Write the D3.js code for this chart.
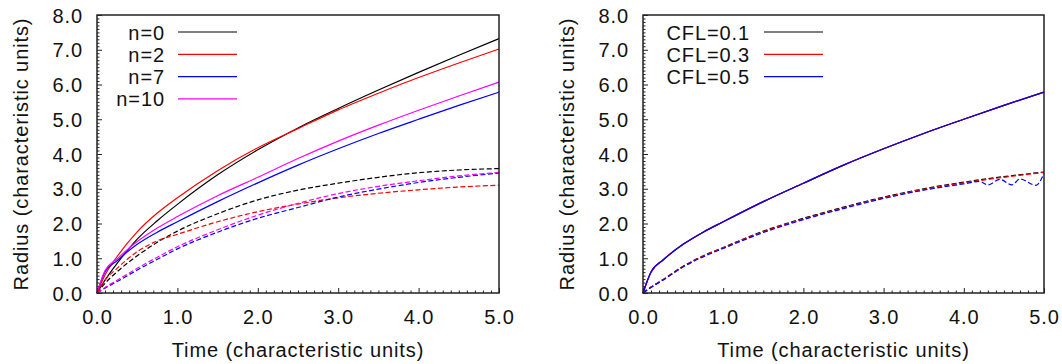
<!DOCTYPE html>
<html>
<head>
<meta charset="utf-8">
<script src="https://cdn.jsdelivr.net/npm/d3@7"></script>
<style>
  body { margin: 0; background: #fff; }
  svg text { font-family: "Liberation Sans", Arial, sans-serif; font-size: 20px; letter-spacing: 0.9px; fill: #111; }
</style>
</head>
<body>
<div id="chart"></div>
<script>
// Time samples (characteristic units)
const time = [0, 0.1, 0.25, 0.5, 0.75, 1, 1.5, 2, 2.5, 3, 3.5, 4, 4.5, 5];

// Left panel: radius for different n (solid / dashed)
const n0Solid   = [0, 0.37, 0.85, 1.55, 2.08, 2.55, 3.40, 4.12, 4.75, 5.31, 5.84, 6.35, 6.84, 7.32];
const n2Solid   = [0, 0.52, 1.05, 1.76, 2.30, 2.74, 3.52, 4.18, 4.73, 5.27, 5.75, 6.20, 6.62, 7.02];
const n7Solid   = [0, 0.61, 0.93, 1.40, 1.75, 2.05, 2.63, 3.17, 3.68, 4.15, 4.59, 5.00, 5.40, 5.78];
const n10Solid  = [0, 0.65, 0.98, 1.48, 1.87, 2.20, 2.80, 3.33, 3.87, 4.37, 4.83, 5.26, 5.67, 6.07];
const n0Dashed  = [0, 0.28, 0.61, 1.07, 1.46, 1.78, 2.28, 2.68, 2.96, 3.16, 3.33, 3.46, 3.54, 3.58];
const n2Dashed  = [0, 0.37, 0.71, 1.19, 1.50, 1.69, 2.05, 2.34, 2.56, 2.74, 2.87, 2.97, 3.05, 3.10];
const n7Dashed  = [0, 0.14, 0.33, 0.66, 0.97, 1.27, 1.75, 2.15, 2.46, 2.76, 2.99, 3.18, 3.33, 3.45];
const n10Dashed = [0, 0.16, 0.37, 0.71, 1.03, 1.33, 1.82, 2.24, 2.58, 2.86, 3.07, 3.23, 3.37, 3.47];

// Right panel: radius for different CFL numbers
const cfl01Solid  = [0, 0.60, 0.95, 1.40, 1.75, 2.05, 2.63, 3.16, 3.68, 4.15, 4.59, 5.00, 5.40, 5.78];
const cfl03Solid  = [0, 0.60, 0.95, 1.40, 1.75, 2.05, 2.63, 3.16, 3.68, 4.15, 4.59, 5.00, 5.40, 5.78];
const cfl05Solid  = [0, 0.61, 0.95, 1.40, 1.75, 2.05, 2.63, 3.16, 3.68, 4.15, 4.59, 5.00, 5.40, 5.78];
const cfl01Dashed = [0, 0.17, 0.39, 0.77, 1.07, 1.31, 1.78, 2.15, 2.47, 2.76, 3.00, 3.19, 3.35, 3.48];
const cfl03Dashed = [0, 0.17, 0.38, 0.76, 1.06, 1.30, 1.76, 2.13, 2.45, 2.74, 2.98, 3.17, 3.33, 3.47];
// CFL=0.5 dashed wobbles near the end, so it has its own time samples
const timeCfl05   = [0, 0.1, 0.25, 0.5, 0.75, 1, 1.5, 2, 2.5, 3, 3.5, 4, 4.2, 4.3, 4.45, 4.6, 4.7, 4.9, 5];
const cfl05Dashed = [0, 0.16, 0.37, 0.75, 1.04, 1.28, 1.74, 2.11, 2.43, 2.72, 2.96, 3.14, 3.21, 3.11, 3.27, 3.11, 3.28, 3.10, 3.44];

const xTicks = [0, 1, 2, 3, 4, 5];
const yTicks = [0, 1, 2, 3, 4, 5, 6, 7, 8];
const xLabel = "Time (characteristic units)";
const yLabel = "Radius (characteristic units)";

const svg = d3.select("#chart")
  .append("svg")
  .attr("width", 1062)
  .attr("height", 364);

function drawPanel(p) {
  const x = d3.scaleLinear().domain([0, 5]).range([p.left, p.right]);
  const y = d3.scaleLinear().domain([0, 8]).range([p.bottom, p.top]);
  const g = svg.append("g");

  // minor ticks every 0.1
  const xMinor = d3.range(0, 51).map(i => i / 10).filter(v => Math.abs(v - Math.round(v)) > 1e-6);
  const yMinor = d3.range(0, 81).map(i => i / 10).filter(v => Math.abs(v - Math.round(v)) > 1e-6);

  g.append("g")
    .attr("transform", "translate(0," + p.bottom + ")")
    .call(d3.axisBottom(x).tickValues(xMinor).tickSize(-2.5).tickFormat(""))
    .call(a => a.select(".domain").remove());
  g.append("g")
    .attr("transform", "translate(" + p.left + ",0)")
    .call(d3.axisLeft(y).tickValues(yMinor).tickSize(-2.5).tickFormat(""))
    .call(a => a.select(".domain").remove());

  g.append("g")
    .attr("transform", "translate(0," + p.bottom + ")")
    .call(d3.axisBottom(x).tickValues(xTicks).tickSize(-5).tickPadding(17).tickFormat(d3.format(".1f")))
    .call(a => a.select(".domain").remove());
  const yAxis = g.append("g")
    .attr("transform", "translate(" + p.left + ",0)")
    .call(d3.axisLeft(y).tickValues(yTicks).tickSize(-5).tickPadding(14).tickFormat(d3.format(".1f")))
    .call(a => a.select(".domain").remove());
  g.selectAll(".tick line").attr("stroke", "#222").attr("stroke-width", 1);
  g.selectAll(".tick text").attr("font-size", null).attr("font-family", null).attr("fill", "#111");
  yAxis.selectAll(".tick text").attr("dy", "0.36em");

  // curves
  p.series.forEach(s => {
    const line = d3.line()
      .x((d, i) => x(s.t[i]))
      .y(d => y(d))
      .curve(d3.curveMonotoneX);
    g.append("path")
      .datum(s.values)
      .attr("fill", "none")
      .attr("stroke", s.color)
      .attr("stroke-width", 1.2)
      .attr("stroke-dasharray", s.dashed ? "5,2.5" : null)
      .attr("d", line);
  });

  // frame
  g.append("rect")
    .attr("x", p.left)
    .attr("y", p.top)
    .attr("width", p.right - p.left)
    .attr("height", p.bottom - p.top)
    .attr("fill", "none")
    .attr("stroke", "#222")
    .attr("stroke-width", 1.5);

  // legend
  p.legend.forEach((d, i) => {
    const ly = p.top + 17 + i * 22.3;
    g.append("text")
      .attr("x", p.legendText)
      .attr("y", ly + 7.5)
      .attr("text-anchor", "end")
      .text(d.label);
    g.append("line")
      .attr("x1", p.legendLine)
      .attr("x2", p.legendLine + 59)
      .attr("y1", ly)
      .attr("y2", ly)
      .attr("stroke", d.color)
      .attr("stroke-width", 1.2);
  });

  // axis titles
  g.append("text")
    .attr("x", (p.left + p.right) / 2)
    .attr("y", 357)
    .attr("text-anchor", "middle")
    .text(xLabel);
  g.append("text")
    .attr("transform", "translate(" + p.yTitle + "," + (p.top + p.bottom) / 2 + ") rotate(-90)")
    .attr("text-anchor", "middle")
    .text(yLabel);
}

drawPanel({
  left: 97, right: 499, top: 15, bottom: 293,
  yTitle: 28, legendText: 165, legendLine: 178,
  legend: [
    { label: "n=0", color: "#000000" },
    { label: "n=2", color: "#ff0000" },
    { label: "n=7", color: "#0000ff" },
    { label: "n=10", color: "#ff00ff" }
  ],
  series: [
    { t: time, values: n0Solid, color: "#000000" },
    { t: time, values: n2Solid, color: "#ff0000" },
    { t: time, values: n7Solid, color: "#0000ff" },
    { t: time, values: n10Solid, color: "#ff00ff" },
    { t: time, values: n0Dashed, color: "#000000", dashed: true },
    { t: time, values: n2Dashed, color: "#ff0000", dashed: true },
    { t: time, values: n7Dashed, color: "#0000ff", dashed: true },
    { t: time, values: n10Dashed, color: "#ff00ff", dashed: true }
  ]
});

drawPanel({
  left: 643, right: 1044, top: 15, bottom: 293,
  yTitle: 574, legendText: 750, legendLine: 764,
  legend: [
    { label: "CFL=0.1", color: "#000000" },
    { label: "CFL=0.3", color: "#ff0000" },
    { label: "CFL=0.5", color: "#0000ff" }
  ],
  series: [
    { t: time, values: cfl01Solid, color: "#000000" },
    { t: time, values: cfl03Solid, color: "#ff0000" },
    { t: time, values: cfl05Solid, color: "#0000ff" },
    { t: time, values: cfl01Dashed, color: "#000000", dashed: true },
    { t: time, values: cfl03Dashed, color: "#ff0000", dashed: true },
    { t: timeCfl05, values: cfl05Dashed, color: "#0000ff", dashed: true }
  ]
});
</script>
</body>
</html>
